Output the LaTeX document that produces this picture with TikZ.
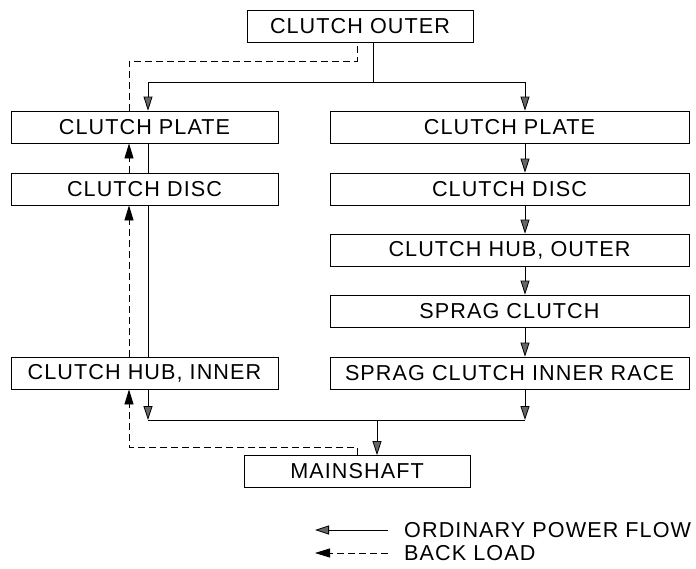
\documentclass[tikz,border=0pt]{standalone}
\usepackage{fontspec}
\setmainfont[LetterSpace=5]{Liberation Sans}
\usetikzlibrary{arrows.meta}
\tikzset{
  blk/.style  = {draw, line width=0.8pt, minimum height=32pt, inner sep=0pt,
                 font=\fontsize{21.6}{24}\selectfont},
  lcol/.style = {blk, minimum width=267pt},
  rcol/.style = {blk, minimum width=359pt},
  mid/.style  = {blk, minimum width=226pt},
  lgd/.style  = {anchor=west, inner sep=0pt, font=\fontsize{21.6}{24}\selectfont},
  pf/.style   = {line width=0.8pt},
  pfa/.style  = {pf, -{Triangle[length=14pt,width=9pt,fill=black!60]}},
  bl/.style   = {line width=0.8pt, dash pattern=on 7pt off 4pt},
  bla/.style  = {bl, -{Triangle[length=15pt,width=9pt]}},
}

\begin{document}
\begin{tikzpicture}[x=1pt, y=-1pt]
  \useasboundingbox (0,0) rectangle (696,568);

  \node[mid]  (outer)     at (360,26)    {CLUTCH OUTER};
  \node[lcol] (lplate)    at (144.5,127) {CLUTCH PLATE};
  \node[lcol] (ldisc)     at (144.5,189) {CLUTCH DISC};
  \node[lcol] (lhub)      at (144.5,373) {CLUTCH HUB, INNER};
  \node[rcol] (rplate)    at (509.5,127) {CLUTCH PLATE};
  \node[rcol] (rdisc)     at (509.5,189) {CLUTCH DISC};
  \node[rcol] (rhub)      at (509.5,250) {CLUTCH HUB, OUTER};
  \node[rcol] (sprag)     at (509.5,311) {SPRAG CLUTCH};
  \node[rcol] (race)      at (509.5,373) {SPRAG CLUTCH INNER RACE};
  \node[mid]  (mainshaft) at (357,471.5) {MAINSHAFT};

  % --- ordinary power flow ---
  \coordinate (split) at (373,82);
  \coordinate (lx)    at (148,82);
  \coordinate (rx)    at (525,82);
  \coordinate (join)  at (377,420);
  \draw[pf] (outer.south -| split) -- (split);
  \draw[pf] (lx) -- (rx);
  \draw[pfa] (lx) -- (lplate.north -| lx);
  \draw[pfa] (rx) -- (rplate.north -| rx);
  \draw[pf] (lplate.south -| lx) -- (ldisc.north -| lx);
  \draw[pf] (ldisc.south -| lx) -- (lhub.north -| lx);
  \foreach \a/\b in {rplate/rdisc, rdisc/rhub, rhub/sprag, sprag/race}
    \draw[pfa] (\a.south -| rx) -- (\b.north -| rx);
  \draw[pfa] (lhub.south -| lx) -- (lx |- join);
  \draw[pfa] (race.south -| rx) -- (rx |- join);
  \draw[pf] (lx |- join) -- (rx |- join);
  \draw[pfa] (join) -- (mainshaft.north -| join);

  % --- back load ---
  \coordinate (bx)   at (129,61);
  \coordinate (back) at (357,61);
  \coordinate (ret)  at (357,447);
  \draw[bl] (lplate.north -| bx) -- (bx) -- (back) -- (outer.south -| back);
  \draw[bla] (ldisc.north -| bx) -- (lplate.south -| bx);
  \draw[bla] (lhub.north -| bx) -- (ldisc.south -| bx);
  \draw[bla] (mainshaft.north -| ret) -- (ret) -- (bx |- ret) -- (lhub.south -| bx);

  % --- legend ---
  \node[lgd] (lgpf) at (404,530) {ORDINARY POWER FLOW};
  \node[lgd] (lgbl) at (404,553) {BACK LOAD};
  \coordinate (pftip) at (315,530);
  \coordinate (bltip) at (315,553);
  \draw[pfa] ([xshift=-16pt]lgpf.west) -- (pftip);
  \draw[bla] ([xshift=-16pt]lgbl.west) -- (bltip);
\end{tikzpicture}
\end{document}
